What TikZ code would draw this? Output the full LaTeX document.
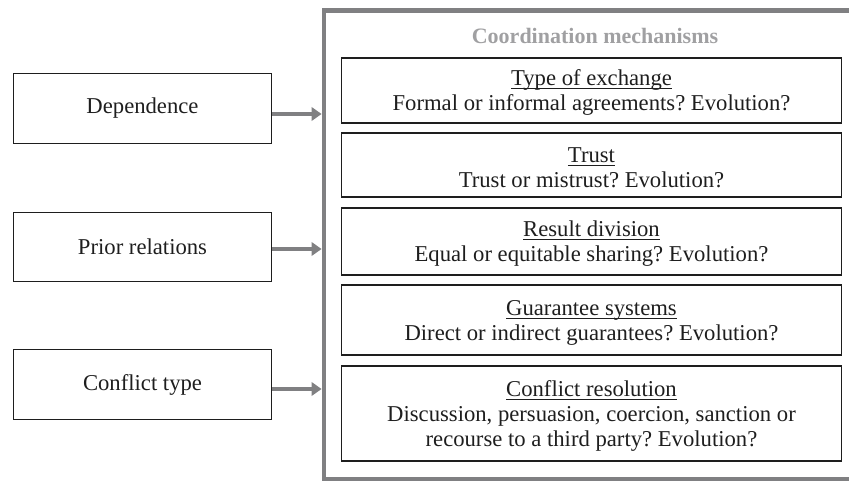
\documentclass[tikz,border=0pt]{standalone}
\usepackage{fontspec}
\setmainfont{Liberation Serif}
\usetikzlibrary{arrows.meta}
\frenchspacing
\definecolor{framegray}{RGB}{128,128,130}
\definecolor{titlegray}{RGB}{160,160,162}
\definecolor{ink}{RGB}{30,30,30}
\newcommand\ulin[1]{\rule{0pt}{15.5pt}\setbox0\hbox{#1}\rlap{\rule[-2.6pt]{\wd0}{0.75pt}}\box0}
\tikzset{
  leftbox/.style={draw=ink, line width=0.9pt, minimum width=194pt, minimum height=52pt, inner sep=0pt,
    font=\fontsize{17}{18.4}\selectfont, text=ink},
  mechbox/.style={draw=ink, line width=0.9pt, minimum width=375pt, inner sep=0pt, align=center,
    font=\fontsize{17}{18.8}\selectfont, text=ink},
  frm/.style={draw=framegray, line width=3.6pt, minimum width=396pt, minimum height=351.4pt, inner sep=0pt},
  arr/.style={draw=framegray, line width=3pt, -{Triangle[length=7.5pt,width=10pt]}},
}
\begin{document}
\begin{tikzpicture}[x=0.75pt,y=-0.75pt]
\useasboundingbox (0,0) rectangle (849,481);
\clip (0,0) rectangle (849,481);
% outer frame
\node[frm] (frame) at (588,244.75) {};
\node[font=\fontsize{16.5}{18}\selectfont\bfseries, text=titlegray] (title) at (595,36) {Coordination mechanisms};
% left boxes
\node[leftbox] (dep) at (142.5,108.5) {Dependence};
\node[leftbox] (prior) at (142.5,247) {Prior relations};
\node[leftbox] (conf) at (142.5,384.5) {Conflict type};
% mechanism boxes
\node[mechbox, minimum height=48.75pt] (b1) at (591.5,90.5) {\ulin{Type of exchange}\\Formal or informal agreements? Evolution?};
\node[mechbox, minimum height=48pt] (b2) at (591.5,165) {\ulin{Trust}\\Trust or mistrust? Evolution?};
\node[mechbox, minimum height=50.25pt] (b3) at (591.5,241.5) {\ulin{Result division}\\Equal or equitable sharing? Evolution?};
\node[mechbox, minimum height=52.5pt] (b4) at (591.5,320) {\ulin{Guarantee systems}\\Direct or indirect guarantees? Evolution?};
\node[mechbox, minimum height=71.25pt] (b5) at (591.5,413.5) {\ulin{Conflict resolution}\\Discussion, persuasion, coercion, sanction or\\recourse to a third party? Evolution?};
% arrows
\coordinate (y1) at (0,114);
\coordinate (y2) at (0,249);
\coordinate (y3) at (0,389);
\draw[arr] (dep.east |- y1) -- (frame.west |- y1);
\draw[arr] (prior.east |- y2) -- (frame.west |- y2);
\draw[arr] (conf.east |- y3) -- (frame.west |- y3);
\end{tikzpicture}
\end{document}
